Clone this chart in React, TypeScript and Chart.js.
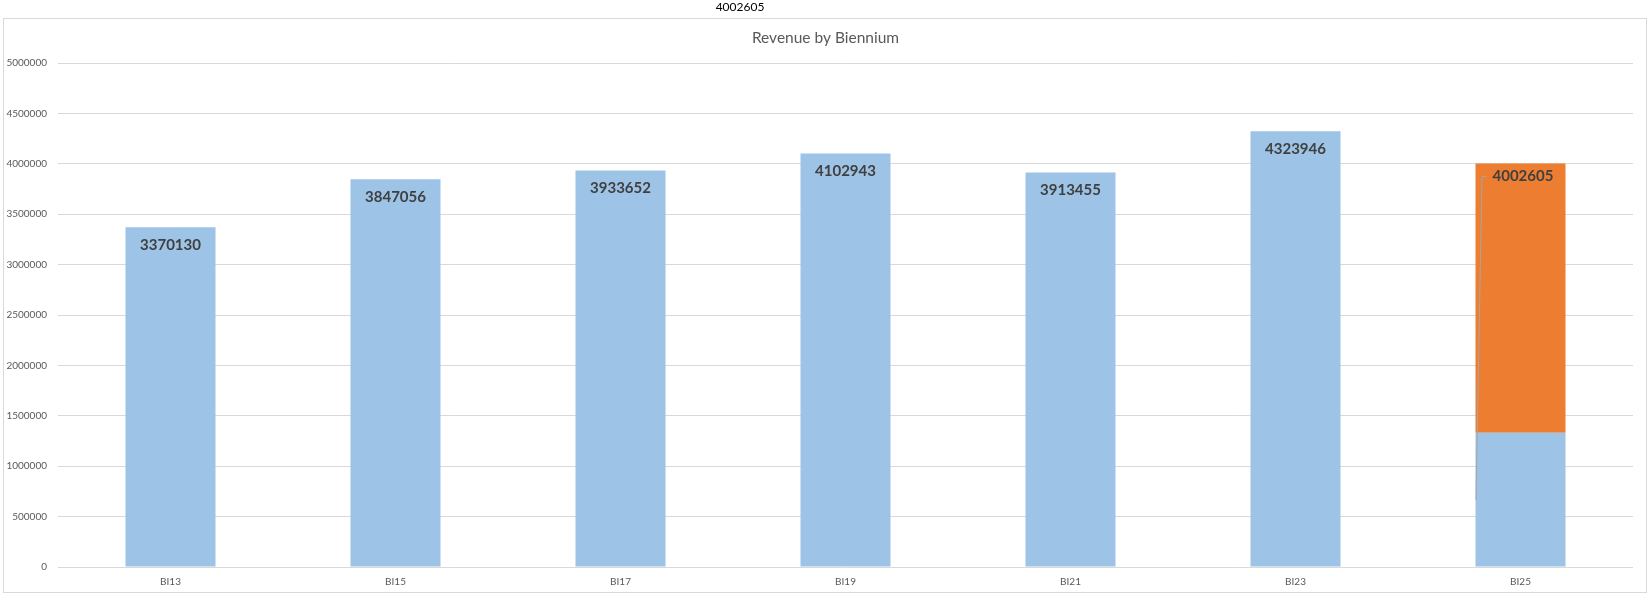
import React, { useEffect, useRef } from "react";
import { Chart, registerables } from "chart.js";

Chart.register(...registerables);

const categories = ["BI13", "BI15", "BI17", "BI19", "BI21", "BI23", "BI25"];
const baseRevenue = [3370130, 3847056, 3933652, 4102943, 3913455, 4323946, 1333000];
const addedRevenue = [null, null, null, null, null, null, 2669605];
const totalLabels = [3370130, 3847056, 3933652, 4102943, 3913455, 4323946, 4002605];
const strayLabel = "4002605";
const chartTitle = "Revenue by Biennium";
const yMax = 5000000;
const yStep = 500000;

const FONT = "Lato, 'Open Sans', sans-serif";

export default function App() {
  const ref = useRef<HTMLCanvasElement | null>(null);

  useEffect(() => {
    document.body.style.margin = "0";
    const canvas = ref.current;
    if (!canvas) return;

    const framePlugin = {
      id: "frame",
      beforeDraw(chart: any) {
        const ctx = chart.ctx;
        ctx.save();
        ctx.fillStyle = "#ffffff";
        ctx.fillRect(0, 0, chart.width, chart.height);
        ctx.strokeStyle = "#d9d9d9";
        ctx.lineWidth = 1;
        ctx.strokeRect(3.5, 18.5, chart.width - 5, chart.height - 21);
        // stray label above the frame
        ctx.fillStyle = "#000000";
        ctx.font = `12px ${FONT}`;
        ctx.textAlign = "center";
        ctx.textBaseline = "middle";
        ctx.fillText(strayLabel, 740, 7.5);
        // title, centred on the frame
        ctx.fillStyle = "#595959";
        ctx.font = `15.5px ${FONT}`;
        ctx.fillText(chartTitle, (3 + chart.width) / 2, 38);
        ctx.restore();
      },
    };

    const labelPlugin = {
      id: "valueLabels",
      afterDatasetsDraw(chart: any) {
        const ctx = chart.ctx;
        const yScale = chart.scales.y;
        const meta0 = chart.getDatasetMeta(0);
        ctx.save();
        ctx.font = `bold 15px ${FONT}`;
        ctx.fillStyle = "#404040";
        ctx.textBaseline = "middle";
        categories.forEach((_, i) => {
          const el = meta0.data[i];
          if (!el) return;
          const top = yScale.getPixelForValue(totalLabels[i]);
          const text = String(totalLabels[i]);
          if (addedRevenue[i] != null) {
            const half = (el.width as number) / 2;
            const left = el.x - half;
            const startY = yScale.getPixelForValue(baseRevenue[i] / 2);
            const ly = top + 12.5;
            ctx.strokeStyle = "#a6a6a6";
            ctx.lineWidth = 1;
            ctx.beginPath();
            ctx.moveTo(left + 0.5, startY);
            ctx.lineTo(left + 6.5, ly + 0.5);
            ctx.lineTo(left + 11, ly + 0.5);
            ctx.stroke();
            ctx.textAlign = "left";
            ctx.fillText(text, left + 17, ly);
          } else {
            ctx.textAlign = "center";
            ctx.fillText(text, el.x, top + 18);
          }
        });
        ctx.restore();
      },
    };

    const chart = new Chart(canvas, {
      type: "bar",
      data: {
        labels: categories,
        datasets: [
          {
            label: "Revenue",
            data: baseRevenue,
            backgroundColor: "#9dc3e6",
            borderWidth: 0,
            barPercentage: 0.4,
            categoryPercentage: 1,
          },
          {
            label: "Projected",
            data: addedRevenue as any,
            backgroundColor: "#ed7d31",
            borderWidth: 0,
            barPercentage: 0.4,
            categoryPercentage: 1,
          },
        ],
      },
      options: {
        responsive: false,
        animation: false,
        devicePixelRatio: 1,
        layout: { padding: { top: 63, right: 15, left: 0, bottom: 0 } },
        plugins: {
          legend: { display: false },
          title: { display: false },
          tooltip: { enabled: false },
        },
        scales: {
          x: {
            stacked: true,
            grid: { display: false, drawTicks: false },
            border: { display: false },
            ticks: { color: "#595959", font: { family: FONT, size: 10 }, padding: 9 },
            afterFit(scale: any) {
              scale.height = 28;
            },
          },
          y: {
            stacked: true,
            min: 0,
            max: yMax,
            grid: { color: "#d9d9d9", drawTicks: false },
            border: { display: false },
            ticks: {
              stepSize: yStep,
              color: "#595959",
              font: { family: FONT, size: 10 },
              padding: 11,
              callback: (v: any) => String(v),
            },
            afterFit(scale: any) {
              scale.width = 58;
            },
          },
        },
      },
      plugins: [framePlugin, labelPlugin],
    });

    return () => chart.destroy();
  }, []);

  return (
    <canvas
      ref={ref}
      width={1648}
      height={595}
      style={{ position: "fixed", left: 0, top: 0, width: 1648, height: 595, display: "block" }}
    />
  );
}
